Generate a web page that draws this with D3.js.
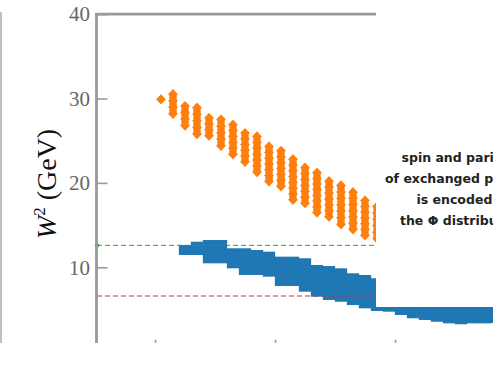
<!DOCTYPE html>
<html><head><meta charset="utf-8">
<script src="https://cdn.jsdelivr.net/npm/d3@7"></script>
<style>html,body{margin:0;padding:0;background:#fff;}svg{display:block;}</style>
</head><body>
<svg id="chart" width="493" height="370"></svg>
<script>
// ---- data ----
const yTicks = [0, 10, 20, 30, 40];
const xTicks = [1, 2, 3];
// orange: columns of diamonds (x, lowest W², highest W²)
const orangeX  = [1.05,1.15,1.25,1.35,1.45,1.55,1.65,1.75,1.85,1.95,2.05,2.15,2.25,2.35,2.45,2.55,2.65,2.75,2.85];
const orangeLo = [29.9,28.2,26.8,25.8,25.6,24.4,23.4,22.5,21.3,20.2,19.6,18.0,17.6,16.5,16.0,15.1,14.5,13.8,13.4];
const orangeHi = [29.9,30.5,29.1,28.9,27.7,27.5,26.9,25.9,25.5,24.3,23.8,22.8,21.8,21.2,20.2,19.7,18.9,17.9,17.2];
// blue: stepped band (x, lower W², upper W²)
const blueX  = [1.25,1.35,1.45,1.55,1.65,1.75,1.85,1.95,2.05,2.15,2.25,2.35,2.45,2.55,2.65,2.75,2.85,2.95,3.05,3.15,3.25,3.35,3.45,3.55,3.65,3.75,3.85];
const blueLo = [11.46,11.46,10.47,10.47,9.88,9.09,9.09,8.89,7.78,7.78,7.11,6.52,6.13,5.92,5.53,5.14,4.82,4.74,4.35,3.96,3.76,3.55,3.36,3.25,3.36,3.36,3.40];
const blueHi = [12.64,13.03,13.23,13.23,12.25,12.25,12.05,11.85,11.26,11.26,11.07,10.27,10.15,9.88,9.29,9.09,8.70,8.40,8.10,7.80,7.50,7.20,7.00,6.80,6.60,6.50,6.40];
// reference lines
const greenLevel = 12.6;
const redLevel = 6.6;
const yLabelMain = "W";
const yLabelSup = "2";
const yLabelUnit = " (GeV)";
const noteLines = ["spin and parity", "of exchanged particle", "is encoded in", "the \u03A6 distribution"];

// ---- drawing ----
const svg = d3.select("#chart");
svg.append("rect").attr("width",493).attr("height",370).attr("fill","#fff");

const x = d3.scaleLinear().domain([0.5, 4.0]).range([95, 515]);
const y = d3.scaleLinear().domain([0, 40]).range([351.7, 14.1]);

svg.append("defs").append("clipPath").attr("id","figclip")
  .append("rect").attr("x",0).attr("y",0).attr("width",493).attr("height",343);

const g = svg.append("g").attr("clip-path","url(#figclip)");

// left frame line of figure
g.append("line").attr("x1",1).attr("x2",1).attr("y1",12).attr("y2",343)
  .attr("stroke","#aaa").attr("stroke-width",1.5);

const spineCol = "#9a9a9a";

// blue band
g.append("g").selectAll("rect").data(blueX).join("rect")
  .attr("x", d => x(d) - 6.15)
  .attr("width", 12.3)
  .attr("y", (d,i) => y(blueHi[i]))
  .attr("height", (d,i) => y(blueLo[i]) - y(blueHi[i]))
  .attr("fill", "#1f77b4");

// orange columns of stacked diamonds: one scalloped shape per column
const hw = 4.9, hh = 5.2;
function columnPath(cx, yt, yb) {
  const span = yb - yt;
  const n = Math.max(1, Math.round(span / 6) + 1);
  let p = "";
  for (let k = 0; k < n; k++) {
    const cy = n === 1 ? yt : yt + span * k / (n - 1);
    p += `M${cx},${cy-hh}L${cx+hw},${cy}L${cx},${cy+hh}L${cx-hw},${cy}Z`;
  }
  if (span > 0) p += `M${cx-3.7},${yt}L${cx+3.7},${yt}L${cx+3.7},${yb}L${cx-3.7},${yb}Z`;
  return p;
}
g.append("g").selectAll("path").data(orangeX).join("path")
  .attr("d", (d,i) => columnPath(x(d), y(orangeHi[i]), y(orangeLo[i])))
  .attr("fill", "#ff7f0e");

// reference lines
g.append("line").attr("x1", 97).attr("x2", 380)
  .attr("y1", y(greenLevel)).attr("y2", y(greenLevel))
  .attr("stroke","#2ca02c").attr("stroke-opacity",0.8).attr("stroke-width",1.3)
  .attr("stroke-dasharray","5,3");
g.append("circle").attr("cx",97).attr("cy",y(greenLevel)).attr("r",2.2).attr("fill","#2ca02c");
g.append("line").attr("x1", 97).attr("x2", 380)
  .attr("y1", y(redLevel)).attr("y2", y(redLevel))
  .attr("stroke","#d62728").attr("stroke-opacity",0.65).attr("stroke-width",1.3)
  .attr("stroke-dasharray","5,3");

// axes
const yAxis = d3.axisLeft(y).tickValues(yTicks).tickSize(-11).tickPadding(6.5).tickFormat(d3.format("d"));
const ya = g.append("g").attr("transform","translate(96.5,0)").call(yAxis);
ya.select(".domain").remove();
ya.selectAll(".tick line").attr("stroke",spineCol).attr("stroke-width",1.6);
ya.selectAll(".tick text").attr("font-family","'Liberation Serif', serif").attr("font-size",21).attr("fill","#666");

const xAxis = d3.axisBottom(x).tickValues(xTicks).tickSize(-12).tickFormat("");
const xa = g.append("g").attr("transform","translate(0,351.7)").call(xAxis);
xa.select(".domain").remove();
xa.selectAll(".tick line").attr("stroke",spineCol).attr("stroke-width",1.6);

// spines
g.append("line").attr("x1",96.5).attr("x2",96.5).attr("y1",13).attr("y2",352).attr("stroke",spineCol).attr("stroke-width",2.8);
g.append("line").attr("x1",95).attr("x2",400).attr("y1",14.1).attr("y2",14.1).attr("stroke",spineCol).attr("stroke-width",2.8);

// y label
const yl = g.append("text")
  .attr("transform","translate(56,184) rotate(-90)")
  .attr("text-anchor","middle")
  .attr("font-family","'Liberation Serif', serif").attr("font-size",28).attr("fill","#111");
yl.append("tspan").attr("font-style","italic").text(yLabelMain);
yl.append("tspan").attr("font-size",17).attr("dy",-11).text(yLabelSup);
yl.append("tspan").attr("dy",11).text(yLabelUnit);

// overlay white panel with note (text runs past the figure edge, as in the source)
svg.append("rect").attr("x",376).attr("y",0).attr("width",117).attr("height",307).attr("fill","#fff");
const noteStart = [401.5, 385, 416.5, 400];
svg.append("g").selectAll("text").data(noteLines).join("text")
  .attr("x", (d,i) => noteStart[i]).attr("y", (d,i) => 162 + i*21)
  .attr("font-family","'DejaVu Sans', sans-serif").attr("font-weight",700)
  .attr("font-size",12.5).attr("fill","#222")
  .text(d => d);
</script>
</body></html>
